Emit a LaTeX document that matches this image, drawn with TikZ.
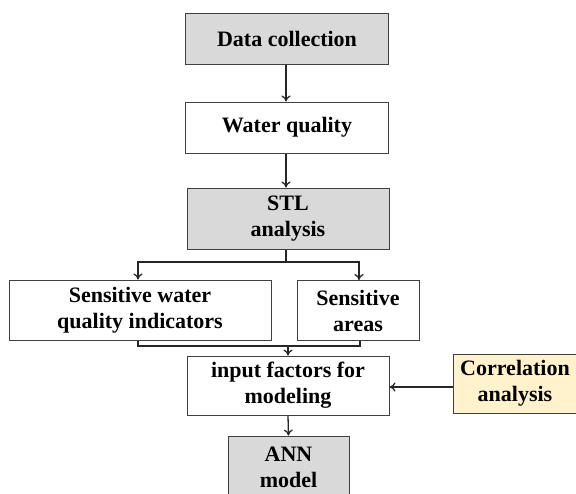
\documentclass[tikz,border=0pt]{standalone}
\usepackage{fontspec}
\setmainfont{Liberation Serif}
\usetikzlibrary{arrows.meta}
\definecolor{boxgray}{HTML}{D9D9D9}
\definecolor{boxyellow}{HTML}{FFF2CC}
\definecolor{edgegray}{HTML}{404040}
\tikzset{
  box/.style={draw=edgegray, line width=1pt, fill=white, align=center,
    font=\fontsize{22}{26}\selectfont\bfseries, inner sep=0pt},
  graybox/.style={box, fill=boxgray},
  yellowbox/.style={box, fill=boxyellow},
  conn/.style={line width=1.3pt, draw=black!85},
  arr/.style={conn, -{To[length=6pt,width=9pt]}}
}
\begin{document}
\begin{tikzpicture}[x=1pt,y=-1pt]
\useasboundingbox (0,0) rectangle (576,493);
\node[graybox, minimum width=203pt, minimum height=51pt] (dc) at (287,38.5) {Data collection};
\node[box, minimum width=203pt, minimum height=51pt] (wq) at (287,127.5) {Water quality};
\node[graybox, minimum width=202pt, minimum height=61pt] (stl) at (288,218.5) {STL\\analysis};
\node[box, minimum width=262pt, minimum height=60pt] (swq) at (140,310) {Sensitive water\\quality indicators};
\node[box, minimum width=122pt, minimum height=60pt] (sa) at (358,310.5) {Sensitive\\areas};
\node[box, minimum width=202pt, minimum height=59pt] (inp) at (288,385.5) {input factors for\\modeling};
\node[yellowbox, minimum width=124pt, minimum height=59pt] (corr) at (515,383.5) {Correlation\\analysis};
\node[graybox, minimum width=121pt, minimum height=62pt] (ann) at (288.5,467) {ANN\\model};
\coordinate (br) at (286,262);
\coordinate (mg) at (288,346);
\draw[arr] (286,0 |- dc.south) -- (286,0 |- wq.north);
\draw[arr] (286,0 |- wq.south) -- (286,0 |- stl.north);
\draw[conn] (286,0 |- stl.south) -- (br);
\draw[arr] (br) -| (138,0 |- swq.north);
\draw[arr] (br) -| (359,0 |- sa.north);
\draw[conn] (138,0 |- swq.south) |- (mg) -| (360,0 |- sa.south);
\draw[arr] (mg) -- (inp.north);
\draw[arr] (corr.west |- 0,387) -- (inp.east |- 0,387);
\draw[arr] (inp.south) -- (ann.north);
\end{tikzpicture}
\end{document}
